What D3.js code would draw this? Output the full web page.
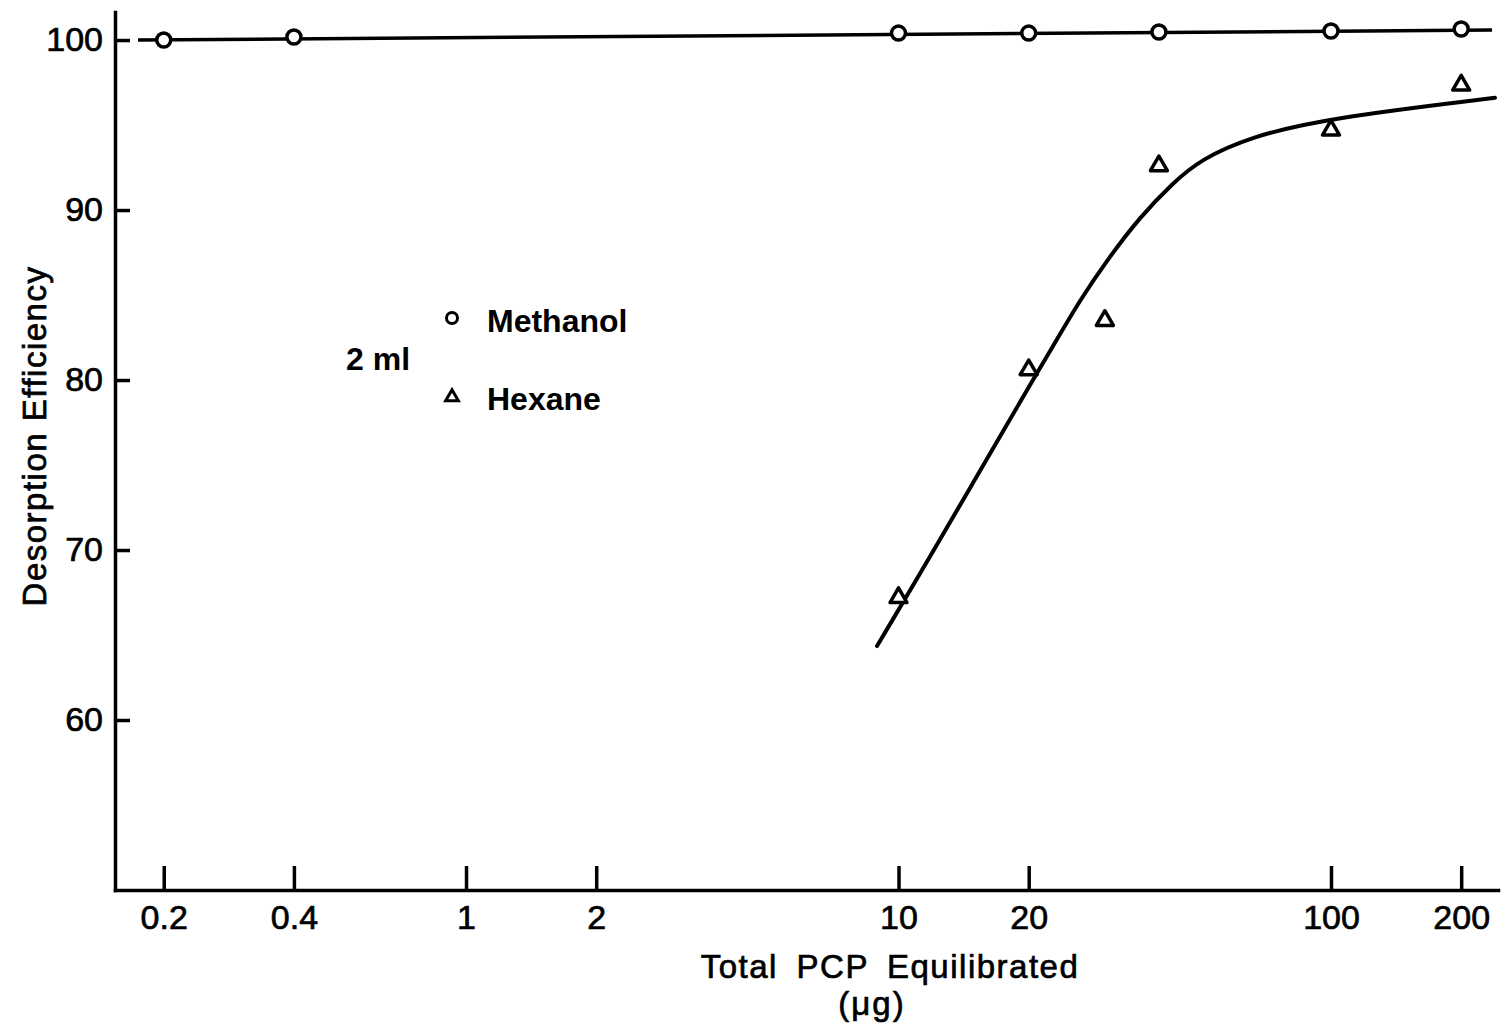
<!DOCTYPE html>
<html>
<head>
<meta charset="utf-8">
<script src="https://cdn.jsdelivr.net/npm/d3@7"></script>
<style>
  html, body { margin: 0; padding: 0; background: #fff; }
  #chart text { font-family: "Liberation Sans", Arial, sans-serif; fill: #000; }
  .axis path, .axis line { stroke: #000; stroke-width: 3.5; fill: none; }
  .axis text { font-size: 34px; stroke: #000; stroke-width: 0.7px; }
</style>
</head>
<body>
<div id="chart"></div>
<script>
// values
var xTicks = [0.2, 0.4, 1, 2, 10, 20, 100, 200],
  xTickLabels = ['0.2', '0.4', '1', '2', '10', '20', '100', '200'],
  yTicks = [60, 70, 80, 90, 100];

var methanolX = [0.2, 0.4, 10, 20, 40, 100, 200],
  methanolY = [100.0, 100.18, 100.41, 100.41, 100.47, 100.53, 100.65];

var hexaneX = [10, 20, 30, 40, 100, 200],
  hexaneY = [67.2, 80.6, 83.5, 92.6, 94.7, 97.35];

// the drawn (hand fitted) lines
var methanolFitX = [0.1744, 235.7],
  methanolFitY = [100.0, 100.59];

var hexaneFitX = [8.92, 12.47, 14.87, 17.82, 20.46, 23.26, 26.28, 30.35, 36.18, 43.12, 49.8, 64.96, 97.9, 239.4],
  hexaneFitY = [64.35, 70.6, 73.95, 77.4, 80.0, 82.4, 84.7, 87.05, 89.6, 91.6, 92.95, 94.3, 95.4, 96.6];

function zip(xs, ys) {
  return xs.map(function (x, i) {
    return {x: x, y: ys[i]};
  });
}

function drawChart() {
  var width = 1503, height = 1029;

  var svg = d3.select('#chart').append('svg')
    .attr('width', width)
    .attr('height', height);

  // 1 -> 466px, 100 -> 1331px
  var xScale = d3.scaleLog()
    .domain([0.1543, 243.3])
    .range([115, 1498]);

  var yScale = d3.scaleLinear()
    .domain([50, 101.65])
    .range([890, 12]);

  svg.append('g')
    .attr('class', 'axis x')
    .attr('transform', 'translate(0,890)')
    .call(d3.axisBottom(xScale)
      .tickValues(xTicks)
      .tickFormat(function (d, i) { return xTickLabels[i]; })
      .tickSizeInner(-24)
      .tickSizeOuter(0)
      .tickPadding(15));

  svg.append('g')
    .attr('class', 'axis y')
    .attr('transform', 'translate(115,0)')
    .call(d3.axisLeft(yScale)
      .tickValues(yTicks)
      .tickSizeInner(-15)
      .tickSizeOuter(0)
      .tickPadding(12));

  svg.selectAll('.axis .domain').attr('stroke-linecap', 'square');

  var line = d3.line()
    .x(function (d) { return xScale(d.x); })
    .y(function (d) { return yScale(d.y); });

  svg.append('path')
    .datum(zip(methanolFitX, methanolFitY))
    .attr('d', line)
    .attr('fill', 'none')
    .attr('stroke', '#000')
    .attr('stroke-width', 3.5);

  // smooth hand drawn curve
  svg.append('path')
    .datum(zip(hexaneFitX, hexaneFitY))
    .attr('d', line.curve(d3.curveBasis))
    .attr('fill', 'none')
    .attr('stroke', '#000')
    .attr('stroke-width', 4)
    .attr('stroke-linecap', 'round');

  // markers
  svg.selectAll('.dot')
    .data(zip(methanolX, methanolY))
    .enter().append('circle')
    .attr('class', 'dot')
    .attr('cx', function (d) { return xScale(d.x); })
    .attr('cy', function (d) { return yScale(d.y); })
    .attr('r', 7)
    .attr('fill', '#fff')
    .attr('stroke', '#000')
    .attr('stroke-width', 3.5);

  var tri = d3.symbol().type(d3.symbolTriangle).size(125);

  svg.selectAll('.tri')
    .data(zip(hexaneX, hexaneY))
    .enter().append('path')
    .attr('class', 'tri')
    .attr('d', tri)
    .attr('transform', function (d) {
      return 'translate(' + xScale(d.x) + ',' + yScale(d.y) + ')';
    })
    .attr('fill', '#fff')
    .attr('stroke', '#000')
    .attr('stroke-width', 3.5)
    .attr('stroke-linejoin', 'round');

  // legend
  var legend = svg.append('g').attr('class', 'legend');

  legend.append('circle')
    .attr('cx', 452).attr('cy', 318).attr('r', 5.5)
    .attr('fill', '#fff').attr('stroke', '#000').attr('stroke-width', 3);

  legend.append('path')
    .attr('d', d3.symbol().type(d3.symbolTriangle).size(70))
    .attr('transform', 'translate(452,397)')
    .attr('fill', '#fff').attr('stroke', '#000').attr('stroke-width', 3);

  legend.append('text')
    .attr('x', 487).attr('y', 332)
    .style('font-size', '32px').style('font-weight', 'bold')
    .text('Methanol');

  legend.append('text')
    .attr('x', 487).attr('y', 410)
    .style('font-size', '32px').style('font-weight', 'bold')
    .text('Hexane');

  legend.append('text')
    .attr('x', 346).attr('y', 370)
    .style('font-size', '32px').style('font-weight', 'bold')
    .text('2 ml');

  // axis titles
  svg.append('text')
    .attr('transform', 'translate(46,436) rotate(-90)')
    .attr('text-anchor', 'middle')
    .style('font-size', '33px')
    .style('letter-spacing', '1.5px')
    .style('stroke', '#000').style('stroke-width', '0.7px')
    .text('Desorption Efficiency');

  svg.append('text')
    .attr('x', 890).attr('y', 978)
    .attr('text-anchor', 'middle')
    .style('font-size', '33px')
    .style('letter-spacing', '1.5px')
    .style('word-spacing', '8px')
    .style('stroke', '#000').style('stroke-width', '0.7px')
    .text('Total PCP Equilibrated');

  svg.append('text')
    .attr('x', 872).attr('y', 1015)
    .attr('text-anchor', 'middle')
    .style('font-size', '33px')
    .style('letter-spacing', '2px')
    .style('stroke', '#000').style('stroke-width', '0.7px')
    .text('(\u03bcg)');
}

drawChart();
</script>
</body>
</html>
